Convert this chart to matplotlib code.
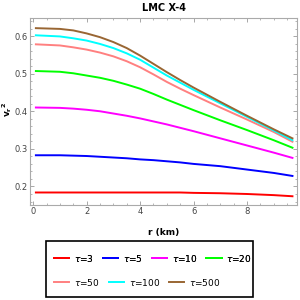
import numpy as np
import matplotlib
matplotlib.use("Agg")
import matplotlib.pyplot as plt
from matplotlib.ticker import MultipleLocator
from matplotlib.patches import Rectangle

# radial grid (km) and v_r^2
r = [0.1, 1, 1.5, 2, 2.5, 3, 3.5, 4, 4.5, 5, 5.5, 6, 7, 8, 9, 9.7]
v_t3 = [0.184, 0.184, 0.184, 0.184, 0.184, 0.184, 0.184, 0.184, 0.184, 0.184,
        0.184, 0.183, 0.182, 0.180, 0.177, 0.174]
v_t5 = [0.283, 0.283, 0.282, 0.281, 0.279, 0.277, 0.275, 0.272, 0.270, 0.267,
        0.264, 0.260, 0.254, 0.245, 0.236, 0.228]
v_t10 = [0.410, 0.409, 0.407, 0.404, 0.400, 0.394, 0.388, 0.381, 0.373, 0.365,
         0.356, 0.347, 0.328, 0.309, 0.290, 0.276]
v_t20 = [0.507, 0.505, 0.501, 0.495, 0.489, 0.481, 0.471, 0.460, 0.446, 0.431,
         0.417, 0.403, 0.376, 0.350, 0.323, 0.303]
v_t50 = [0.578, 0.575, 0.570, 0.564, 0.556, 0.546, 0.533, 0.517, 0.498, 0.478,
         0.460, 0.443, 0.410, 0.378, 0.345, 0.319]
v_t100 = [0.602, 0.599, 0.594, 0.588, 0.579, 0.568, 0.554, 0.537, 0.516, 0.495,
          0.476, 0.457, 0.421, 0.385, 0.349, 0.323]
v_t500 = [0.621, 0.619, 0.615, 0.607, 0.597, 0.584, 0.568, 0.548, 0.526, 0.504,
          0.483, 0.463, 0.425, 0.388, 0.352, 0.328]

labels = [r"$\tau$=3", r"$\tau$=5", r"$\tau$=10", r"$\tau$=20",
          r"$\tau$=50", r"$\tau$=100", r"$\tau$=500"]
series = [v_t3, v_t5, v_t10, v_t20, v_t50, v_t100, v_t500]
colors = ["#ff0000", "#0000ff", "#ff00ff", "#00ff00",
          "#ff8080", "#00ffff", "#996633"]

fig = plt.figure(figsize=(3, 3), dpi=100)
ax = fig.add_axes([0.10, 0.317, 0.89, 0.623])

handles = []
for y, c, lab in zip(series, colors, labels):
    h, = ax.plot(r, y, color=c, lw=1.4, label=lab)
    handles.append(h)

ax.set_xlim(-0.12, 9.87)
ax.set_ylim(0.151, 0.648)
ax.xaxis.set_major_locator(MultipleLocator(2))
ax.xaxis.set_minor_locator(MultipleLocator(0.5))
ax.yaxis.set_major_locator(MultipleLocator(0.1))
ax.yaxis.set_minor_locator(MultipleLocator(0.02))
ax.tick_params(which="both", direction="in", top=True, right=True,
               colors="#999999", labelcolor="#444444", labelsize=6, pad=1.5)
ax.tick_params(which="major", length=3, width=0.6)
ax.tick_params(which="minor", length=1.5, width=0.5)
for s in ax.spines.values():
    s.set_color("#aaaaaa")
    s.set_linewidth(0.8)

fig.text(0.545, 0.972, "LMC X-4", ha="center", va="center",
         fontsize=7, fontweight="bold")
fig.text(0.545, 0.226, "r (km)", ha="center", va="center",
         fontsize=6.5, fontweight="bold")
fig.text(0.025, 0.635, r"$\mathbf{v_r}^{\mathbf{2}}$", ha="center", va="center",
         rotation=90, fontsize=6.5)

# legend box, Mathematica style: two rows that flow left to right
fig.add_artist(Rectangle((0.153, 0.01), 0.69, 0.187, transform=fig.transFigure,
                         fill=False, edgecolor="black", linewidth=1.2))
kw = dict(loc="center left", fontsize=6.5, frameon=False, handlelength=1.7,
          handletextpad=0.5, columnspacing=1.0, borderpad=0, borderaxespad=0)
leg1 = fig.legend(handles[:4], labels[:4], ncol=4,
                  bbox_to_anchor=(0.18, 0.14), **kw)
fig.add_artist(leg1)
fig.legend(handles[4:], labels[4:], ncol=3,
           bbox_to_anchor=(0.18, 0.06), **kw)

fig.savefig("out.png", dpi=100)
